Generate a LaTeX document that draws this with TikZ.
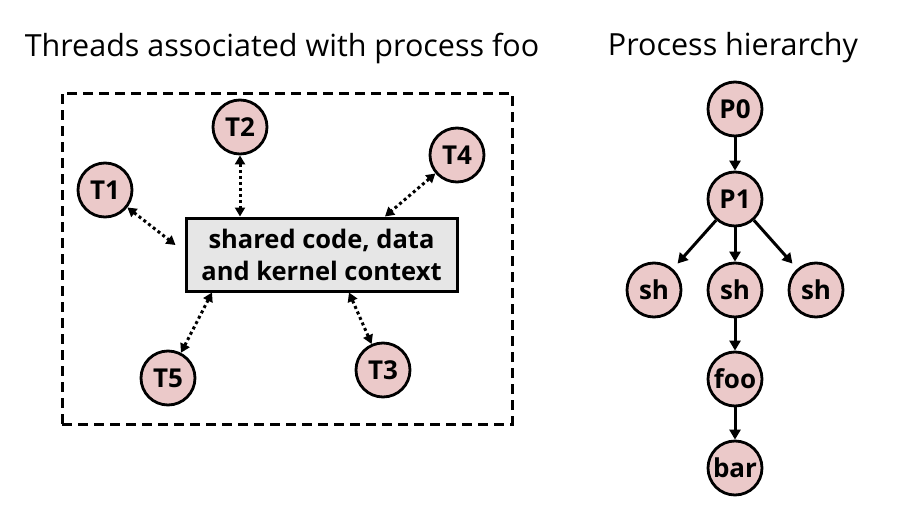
\documentclass[tikz,border=0pt]{standalone}
\usepackage{fontspec}
\setmainfont{Open Sans}
\usetikzlibrary{arrows.meta}
\definecolor{nodepink}{HTML}{EBC9C9}
\definecolor{boxgrey}{HTML}{E6E6E6}
\begin{document}
\begin{tikzpicture}[x=1pt,y=-1pt,
  title/.style={font=\fontsize{30.5}{36}\selectfont, inner sep=0pt},
  circ/.style={circle,draw,line width=2.8pt,fill=nodepink,minimum size=54pt,inner sep=0pt,
    font=\fontsize{26}{30}\selectfont\bfseries},
  shared/.style={draw,line width=3pt,fill=boxgrey,minimum width=271pt,minimum height=73pt,
    inner sep=0pt,align=center,font=\fontsize{25.5}{32}\selectfont\bfseries},
  frame/.style={draw,line width=3pt,dash pattern=on 10pt off 6pt,minimum width=450pt,minimum height=331pt,inner sep=0pt},
  link/.style={line width=3pt,dash pattern=on 3pt off 3pt,
    {Triangle[length=9pt,width=10pt]}-{Triangle[length=9pt,width=10pt]}},
  child/.style={line width=3pt,-{Triangle[length=10pt,width=11pt]}}
]
\useasboundingbox (0,0) rectangle (918,514);
\node[title] (ttl1) at (282,48) {Threads associated with process foo};
\node[title] (ttl2) at (733,48) {Process hierarchy};
\node[frame] (frame) at (287,258.5) {};
\node[shared] (box) at (321.5,254.5) {shared code, data\\and kernel context};
\node[circ] (T1) at (105,190) {T1};
\node[circ] (T2) at (240,127) {T2};
\node[circ] (T3) at (383,370) {T3};
\node[circ] (T4) at (457,155) {T4};
\node[circ] (T5) at (168,378) {T5};
\draw[link] (T1) -- ([xshift=-9pt,yshift=9.5pt]box.west);
\draw[link] (T2) -- (T2 |- box.north);
\draw[link] (T4) -- ([xshift=63.5pt]box.north);
\draw[link] (T5) -- ([xshift=-109.5pt]box.south);
\draw[link] (T3) -- ([xshift=27.5pt]box.south);
\node[circ] (P0) at (735,109) {P0};
\node[circ] (P1) at (735,199) {P1};
\node[circ] (sh1) at (654,290) {sh};
\node[circ] (sh2) at (735,290) {sh};
\node[circ] (sh3) at (816,290) {sh};
\node[circ] (foo) at (735,379) {foo};
\node[circ] (bar) at (735,468) {bar};
\draw[child] (P0) -- (P1);
\draw[child,shorten >=7pt] (P1) -- (sh1);
\draw[child] (P1) -- (sh2);
\draw[child,shorten >=7pt] (P1) -- (sh3);
\draw[child] (sh2) -- (foo);
\draw[child] (foo) -- (bar);
\end{tikzpicture}
\end{document}
